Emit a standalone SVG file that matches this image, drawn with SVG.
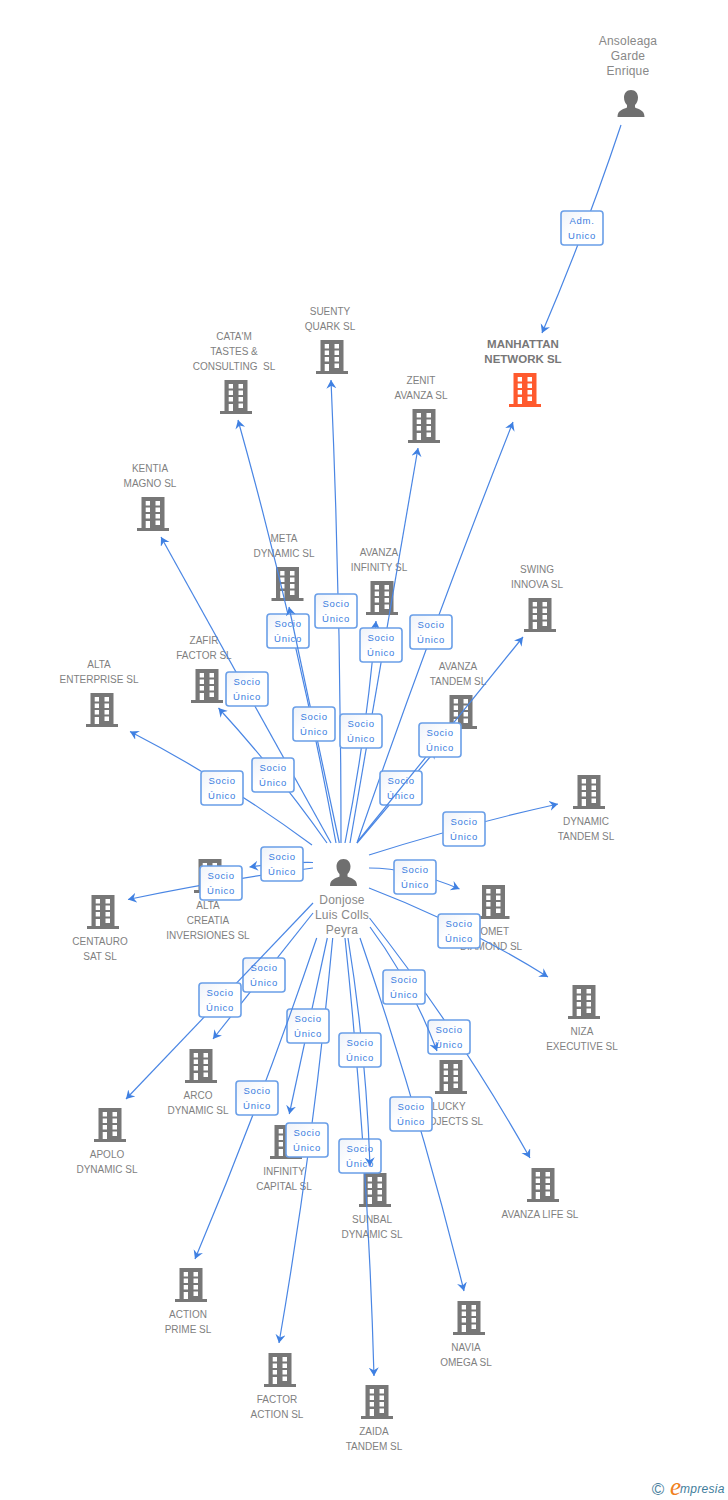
<svg xmlns="http://www.w3.org/2000/svg" width="728" height="1500" viewBox="0 0 728 1500">
<style>
text{font-family:"Liberation Sans",Arial,sans-serif}
.n{font-size:10px;fill:#7f7f7f;text-anchor:middle}
.p{font-size:12px;letter-spacing:.2px;fill:#888}
.b{font-weight:bold;font-size:11.500px;fill:#777}
.l{font-size:9.500px;fill:#3a7de0;text-anchor:middle;letter-spacing:.7px}
.e{stroke:#4a86e4;stroke-width:1.200;fill:none;marker-end:url(#a)}
.box{fill:url(#g);stroke:#6a9fe8;stroke-width:1.600}
</style>
<defs>
<linearGradient id="g" x1="0" y1="0" x2="1" y2="1"><stop offset="0" stop-color="#eef2f9"/><stop offset=".45" stop-color="#fff"/></linearGradient>
<marker id="a" markerUnits="userSpaceOnUse" markerWidth="12" markerHeight="12" refX="8.500" refY="5" orient="auto"><path d="M0 0L8.500 5L0 10L2.800 5Z" fill="#3f80e2"/></marker>
<g id="bld"><path d="M-11.500 0H11.500V31H16V34H-16V31H-11.500ZM-7.300 4V8.500H-3V4ZM2.500 4V8.500H7V4ZM-7.300 10.500V15H-3V10.500ZM2.500 10.500V15H7V10.500ZM-7.300 17V21.500H-3V17ZM2.500 17V21.500H7V17ZM-7.300 24V31H-3V24ZM2.500 23.500V28H7V23.500Z" fill-rule="evenodd"/></g>
<g id="per"><path d="M0 0C4.500 0 7 3.500 7 7.500C7 11 5.500 13.500 4 15V17.500C8 19.500 13.500 20 13.500 27H-13.500C-13.500 20 -8 19.500 -4 17.500V15C-5.500 13.500 -7 11 -7 7.500C-7 3.500 -4.500 0 0 0Z" fill="#6f6f6f"/></g>
<g id="lb"><rect x="-21" y="-17" width="42" height="34" rx="3" class="box"/></g>
<g id="su"><use href="#lb"/><text class="l" y="-4">Socio</text><text class="l" y="11">Único</text></g>
</defs>
<rect width="728" height="1500" fill="#fff"/>
<g id="nodes" fill="#777">
<g id="n-ansoleaga"><use href="#per" x="631" y="90"/><text class="n p" x="628" y="45">Ansoleaga</text><text class="n p" x="628" y="60">Garde</text><text class="n p" x="628" y="75">Enrique</text></g>
<g id="n-manhattan" fill="#ff5a2e"><use href="#bld" x="525" y="373"/><text class="n b" x="523" y="348">MANHATTAN</text><text class="n b" x="523" y="363">NETWORK SL</text></g>
<g id="n-suenty"><use href="#bld" x="332" y="340"/><text class="n" x="330" y="315">SUENTY</text><text class="n" x="330" y="330">QUARK SL</text></g>
<g id="n-catam"><use href="#bld" x="236" y="380"/><text class="n" x="234" y="340">CATA'M</text><text class="n" x="234" y="355">TASTES &amp;</text><text class="n" x="234" y="370">CONSULTING&#160;&#160;SL</text></g>
<g id="n-zenit"><use href="#bld" x="424" y="409"/><text class="n" x="421" y="384">ZENIT</text><text class="n" x="421" y="399">AVANZA SL</text></g>
<g id="n-kentia"><use href="#bld" x="153" y="497"/><text class="n" x="150" y="472">KENTIA</text><text class="n" x="150" y="487">MAGNO SL</text></g>
<g id="n-meta"><use href="#bld" x="287.500" y="567"/><text class="n" x="284" y="542">META</text><text class="n" x="284" y="557">DYNAMIC SL</text></g>
<g id="n-infinity"><use href="#bld" x="382" y="581"/><text class="n" x="379" y="556">AVANZA</text><text class="n" x="379" y="571">INFINITY SL</text></g>
<g id="n-swing"><use href="#bld" x="540" y="598"/><text class="n" x="537" y="573">SWING</text><text class="n" x="537" y="588">INNOVA SL</text></g>
<g id="n-zafir"><use href="#bld" x="207" y="669"/><text class="n" x="204" y="644">ZAFIR</text><text class="n" x="204" y="659">FACTOR SL</text></g>
<g id="n-alta-e"><use href="#bld" x="102" y="693"/><text class="n" x="99" y="668">ALTA</text><text class="n" x="99" y="683">ENTERPRISE SL</text></g>
<g id="n-tandem"><use href="#bld" x="461" y="695"/><text class="n" x="458" y="670">AVANZA</text><text class="n" x="458" y="685">TANDEM SL</text></g>
<g id="n-dyn-t"><use href="#bld" x="589" y="775"/><text class="n" x="586" y="825">DYNAMIC</text><text class="n" x="586" y="840">TANDEM SL</text></g>
<g id="n-comet"><use href="#bld" x="493.500" y="885"/><text class="n" x="491" y="935">COMET</text><text class="n" x="491" y="950">DIAMOND SL</text></g>
<g id="n-niza"><use href="#bld" x="584" y="985"/><text class="n" x="582" y="1035">NIZA</text><text class="n" x="582" y="1050">EXECUTIVE SL</text></g>
<g id="n-creatia"><use href="#bld" x="210" y="859"/><text class="n" x="208" y="909">ALTA</text><text class="n" x="208" y="924">CREATIA</text><text class="n" x="208" y="939">INVERSIONES SL</text></g>
<g id="n-centauro"><use href="#bld" x="103" y="895"/><text class="n" x="100" y="945">CENTAURO</text><text class="n" x="100" y="960">SAT SL</text></g>
<g id="n-lucky"><use href="#bld" x="451" y="1060"/><text class="n" x="449" y="1110">LUCKY</text><text class="n" x="449" y="1125">PROJECTS SL</text></g>
<g id="n-life"><use href="#bld" x="543" y="1168"/><text class="n" x="540" y="1218">AVANZA LIFE SL</text></g>
<g id="n-arco"><use href="#bld" x="201" y="1049"/><text class="n" x="198" y="1099">ARCO</text><text class="n" x="198" y="1114">DYNAMIC SL</text></g>
<g id="n-apolo"><use href="#bld" x="110" y="1108"/><text class="n" x="107" y="1158">APOLO</text><text class="n" x="107" y="1173">DYNAMIC SL</text></g>
<g id="n-infcap"><use href="#bld" x="286" y="1125"/><text class="n" x="284" y="1175">INFINITY</text><text class="n" x="284" y="1190">CAPITAL SL</text></g>
<g id="n-sunbal"><use href="#bld" x="375" y="1173"/><text class="n" x="372" y="1223">SUNBAL</text><text class="n" x="372" y="1238">DYNAMIC SL</text></g>
<g id="n-action"><use href="#bld" x="191" y="1268"/><text class="n" x="188" y="1318">ACTION</text><text class="n" x="188" y="1333">PRIME SL</text></g>
<g id="n-factor"><use href="#bld" x="280" y="1353"/><text class="n" x="277" y="1403">FACTOR</text><text class="n" x="277" y="1418">ACTION SL</text></g>
<g id="n-zaida"><use href="#bld" x="377" y="1385"/><text class="n" x="374" y="1435">ZAIDA</text><text class="n" x="374" y="1450">TANDEM SL</text></g>
<g id="n-navia"><use href="#bld" x="469" y="1301"/><text class="n" x="466" y="1351">NAVIA</text><text class="n" x="466" y="1366">OMEGA SL</text></g>
<g id="n-donjose"><use href="#per" x="343.500" y="859"/><text class="n p" x="342" y="904">Donjose</text><text class="n p" x="342" y="919">Luis Colls</text><text class="n p" x="342" y="934">Peyra</text></g>
</g>
<g id="connectors">
<path class="e" d="M621 125Q586 230 542 333"/><g transform="translate(582 228)"><use href="#lb"/><text class="l" y="-4">Adm.</text><text class="l" y="11">Unico</text></g>
<path class="e" d="M312 845Q224 780 130 731.500"/><use href="#su" x="222" y="788"/>
<path class="e" d="M331 843Q250 696 161 537"/><use href="#su" x="247" y="689"/>
<path class="e" d="M327 843Q277 772 218.500 708"/><use href="#su" x="273" y="775"/>
<path class="e" d="M336 843Q297 631 238 420"/><use href="#su" x="288" y="631"/>
<path class="e" d="M339.300 843L289 607"/><use href="#su" x="314" y="724"/>
<path class="e" d="M341 843Q341 611 331 380"/><use href="#su" x="336" y="611"/>
<path class="e" d="M350 843L418 448"/>
<path class="e" d="M345 843Q367 732 376 621"/><use href="#su" x="381" y="645"/><use href="#su" x="361" y="731"/>
<path class="e" d="M357 843Q430 632 513 422"/><use href="#su" x="431" y="632"/>
<path class="e" d="M357 843L436 750"/><use href="#su" x="401" y="788"/>
<path class="e" d="M358 841L523 637"/><use href="#su" x="440" y="740"/>
<path class="e" d="M369 855Q463.500 825 558 804"/><use href="#su" x="464" y="829"/>
<path class="e" d="M369 868Q410 868 459.500 889"/><use href="#su" x="415" y="877"/>
<path class="e" d="M369 888Q463 924 548 977"/><use href="#su" x="459" y="931"/>
<path class="e" d="M369.500 918Q459 1032 530 1158"/><use href="#su" x="449" y="1037"/>
<path class="e" d="M370 927Q411 982 437 1051"/><use href="#su" x="404" y="987"/>
<path class="e" d="M360 938Q419 1110 464 1291"/><use href="#su" x="411" y="1114"/>
<path class="e" d="M345 938Q368 1157 374 1376"/><use href="#su" x="360" y="1156"/>
<path class="e" d="M348 938Q366 1050 370 1166"/><use href="#su" x="360" y="1050"/>
<path class="e" d="M332.700 938Q314 1140 279 1343"/><use href="#su" x="307" y="1140"/>
<path class="e" d="M327.300 938L289.300 1114"/><use href="#su" x="308" y="1026"/>
<path class="e" d="M316.700 938Q262 1100 195 1259"/><use href="#su" x="257" y="1098"/>
<path class="e" d="M313 913L213 1039"/><use href="#su" x="264" y="975"/>
<path class="e" d="M313 903L126 1099"/><use href="#su" x="220" y="1000"/>
<path class="e" d="M313 868Q221 880 128 899.500"/><use href="#su" x="221" y="883"/>
<path class="e" d="M313 862.500Q285 862 249.500 867"/><use href="#su" x="282" y="864"/>
</g>
<g id="logo"><text x="658" y="1495" font-size="17" fill="#4a7f9e" text-anchor="middle">©</text><text x="670" y="1495" font-size="25" font-style="italic" fill="#f08020" style="font-family:'Liberation Serif',serif">e</text><text x="680" y="1493" font-size="12" font-style="italic" fill="#3f7d9c" letter-spacing=".3">mpresia</text></g>
</svg>
